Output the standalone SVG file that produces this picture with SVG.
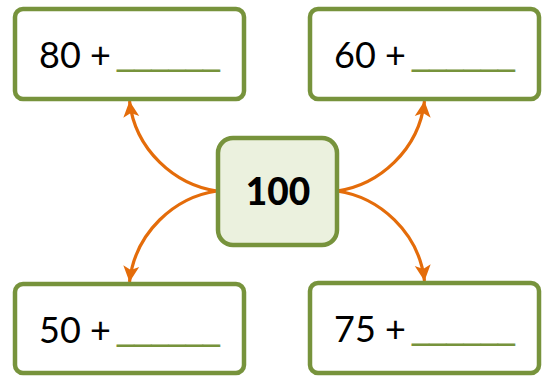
<svg xmlns="http://www.w3.org/2000/svg" width="544" height="378" viewBox="0 0 544 378">
<style>
.box{fill:#ffffff;stroke:#77933c;stroke-width:4.5}
.hub{fill:#ebf1de;stroke:#77933c;stroke-width:4.5}
.lbl{font-family:Lato,"Liberation Sans",sans-serif;font-size:36px;fill:#000000}
.blank{font-family:"Liberation Sans",Arial,sans-serif;font-size:38px;fill:#77933c}
.hubt{font-family:Lato,"Liberation Sans",sans-serif;font-size:37px;font-weight:900;fill:#000000}
.conn{fill:none;stroke:#e46c0a;stroke-width:3.2}
</style>
<defs>
<marker id="ah" markerUnits="userSpaceOnUse" markerWidth="18" markerHeight="18" viewBox="0 0 18 18" refX="16" refY="9" orient="auto">
<path d="M0,1 L16,9 L0,17 L4,9 Z" fill="#e46c0a"/>
</marker>
</defs>
<g id="connectors">
<path class="conn" d="M217,191 C175,185 135,150 129.5,101" marker-end="url(#ah)"/>
<path class="conn" d="M217,191 C175,197 135,232 129.5,282" marker-end="url(#ah)"/>
<path class="conn" d="M337,191 C379,185 419,150 424.5,101" marker-end="url(#ah)"/>
<path class="conn" d="M337,191 C379,197 419,232 424.5,281" marker-end="url(#ah)"/>
</g>
<g id="hub">
<rect class="hub" x="218" y="138" width="119" height="107" rx="15"/>
<text class="hubt" x="278" y="205" text-anchor="middle">100</text>
</g>
<g id="n80">
<rect class="box" x="15" y="9" width="229" height="90" rx="8"/>
<text class="lbl" x="39" y="68">80 +</text>
<text class="blank" x="117" y="64.3" textLength="103" lengthAdjust="spacingAndGlyphs">______</text>
</g>
<g id="n60">
<rect class="box" x="310" y="9" width="229" height="90" rx="8"/>
<text class="lbl" x="334" y="68">60 +</text>
<text class="blank" x="412" y="64.3" textLength="103" lengthAdjust="spacingAndGlyphs">______</text>
</g>
<g id="n50">
<rect class="box" x="15" y="284" width="229" height="89" rx="8"/>
<text class="lbl" x="39" y="343">50 +</text>
<text class="blank" x="117" y="339.3" textLength="103" lengthAdjust="spacingAndGlyphs">______</text>
</g>
<g id="n75">
<rect class="box" x="310" y="283" width="229" height="90" rx="8"/>
<text class="lbl" x="334" y="342">75 +</text>
<text class="blank" x="412" y="338.3" textLength="103" lengthAdjust="spacingAndGlyphs">______</text>
</g>
</svg>
